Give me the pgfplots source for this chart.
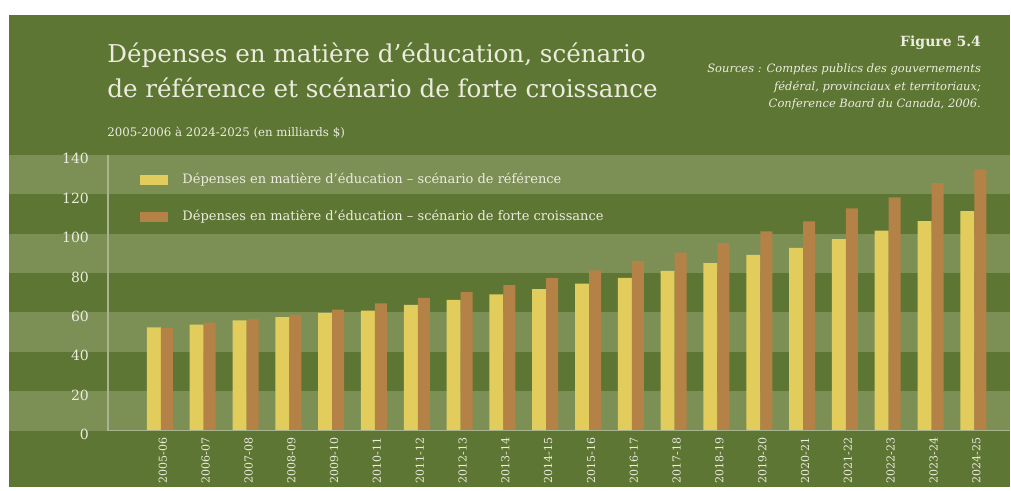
\documentclass[border=0pt]{standalone}
\usepackage{fontspec}
\setmainfont{DejaVu Serif}
\usepackage{pgfplots}
\pgfplotsset{compat=1.18}
\definecolor{bgdark}{RGB}{94,118,52}
\definecolor{bglight}{RGB}{124,144,86}
\definecolor{baryel}{RGB}{226,205,92}
\definecolor{barbrn}{RGB}{180,130,70}
\definecolor{txt}{RGB}{236,236,222}
\definecolor{axl}{RGB}{168,180,140}
\begin{document}
\begin{tikzpicture}[x=0.5pt,y=0.5pt]
\fill[white] (0,0) rectangle (1011,487);
\fill[bgdark] (9,0) rectangle (1011,472);
% titles
\node[anchor=base west, text=txt, font=\fontsize{12.3}{14}\selectfont, inner sep=0] at (107,424) {Dépenses en matière d’éducation, scénario};
\node[anchor=base west, text=txt, font=\fontsize{12.3}{14}\selectfont, inner sep=0] at (107,389) {de référence et scénario de forte croissance};
\node[anchor=base west, text=txt, font=\fontsize{5.9}{7}\selectfont, inner sep=0] at (107,350) {2005-2006 à 2024-2025 (en milliards \$)};
\node[anchor=base east, text=txt, font=\fontsize{7}{9}\selectfont\bfseries, inner sep=0] at (982,440) {Figure 5.4};
\node[anchor=base east, text=txt, font=\fontsize{5.75}{7}\selectfont\itshape, inner sep=0] at (982,414) {Sources : Comptes publics des gouvernements};
\node[anchor=base east, text=txt, font=\fontsize{5.75}{7}\selectfont\itshape, inner sep=0] at (982,396) {fédéral, provinciaux et territoriaux;};
\node[anchor=base east, text=txt, font=\fontsize{5.75}{7}\selectfont\itshape, inner sep=0] at (982,379) {Conference Board du Canada, 2006.};
\begin{axis}[
  at={(54pt,28pt)}, anchor=south west,
  scale only axis, width=451.5pt, height=138pt,
  xmin=-1.237, xmax=19.84, ymin=0, ymax=140,
  clip=false, axis on top,
  axis lines*=left,
  axis line style={axl, line width=0.7pt},
  major tick length=0pt,
  ytick={0,20,...,140},
  yticklabel style={text=txt, font=\fontsize{7}{8}\selectfont, xshift=-6pt, yshift=-2pt},
  xtick={0,...,19},
  xticklabels={2005-06,2006-07,2007-08,2008-09,2009-10,2010-11,2011-12,2012-13,2013-14,2014-15,2015-16,2016-17,2017-18,2018-19,2019-20,2020-21,2021-22,2022-23,2023-24,2024-25},
  xticklabel style={text=txt, font=\fontsize{5.5}{6}\selectfont, rotate=90, anchor=east, yshift=-1pt},
  /pgf/number format/assume math mode=true,
  ybar=0pt,
  legend style={at={(0.029,0.965)}, anchor=north west, draw=none, fill=none,
    font=\fontsize{6.5}{8}\selectfont, text=txt, row sep=8pt,
    /tikz/every even column/.append style={column sep=0pt}},
  legend cell align=left,
  legend image code/.code={\fill[#1] (0pt,-2.5pt) rectangle (14pt,2.5pt);},
]
\fill[bglight] (axis cs:-3.55,0) rectangle (axis cs:19.84,20);
\fill[bglight] (axis cs:-3.55,40) rectangle (axis cs:19.84,60);
\fill[bglight] (axis cs:-3.55,80) rectangle (axis cs:19.84,100);
\fill[bglight] (axis cs:-3.55,120) rectangle (axis cs:19.84,140);
\addplot[fill=baryel, draw=none, bar width=7pt, bar shift=-3.5pt] coordinates {
(0,52.4) (1,53.9) (2,56.0) (3,57.6) (4,59.8) (5,61.0) (6,63.9) (7,66.4) (8,69.2) (9,71.9)
(10,74.7) (11,77.6) (12,81.1) (13,85.1) (14,89.2) (15,92.8) (16,97.3) (17,101.5) (18,106.4) (19,111.4)};
\addplot[fill=barbrn, draw=none, bar width=6pt, bar shift=3pt] coordinates {
(0,52.1) (1,54.9) (2,56.8) (3,58.9) (4,61.5) (5,64.6) (6,67.4) (7,70.4) (8,73.9) (9,77.5)
(10,81.4) (11,86.1) (12,90.4) (13,95.2) (14,101.2) (15,106.2) (16,112.8) (17,118.4) (18,125.7) (19,132.7)};
\legend{\hspace{5pt}Dépenses en matière d’éducation -- scénario de référence,
        \hspace{5pt}Dépenses en matière d’éducation --  scénario de forte croissance}
\end{axis}
\end{tikzpicture}
\end{document}
